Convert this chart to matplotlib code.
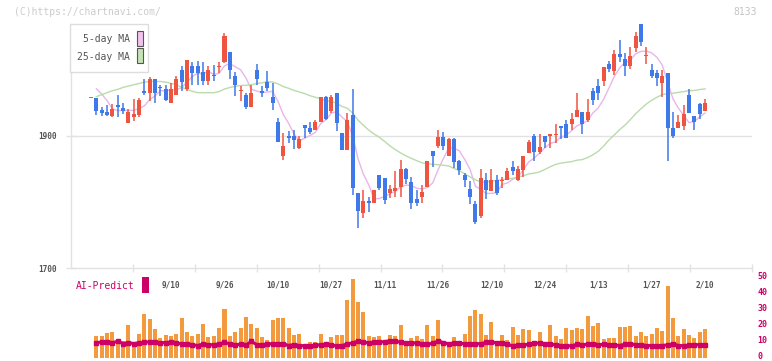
import numpy as np
import pandas as pd
import matplotlib
matplotlib.use("Agg")
import matplotlib.pyplot as plt
from matplotlib.patches import Rectangle
from matplotlib.transforms import ScaledTranslation

# daily candles
opens = [1957, 1957, 1939, 1936, 1930, 1947, 1942, 1919, 1929, 1931,
         1968, 1964, 1985, 1974, 1971, 1950, 1961, 2000, 1970, 2006,
         2005, 1996, 1982, 1992, 2004, 2011, 2027, 1991, 1967, 1962,
         1944, 2000, 1968, 1981, 1959, 1921, 1869, 1900, 1900, 1882,
         1916, 1912, 1908, 1920, 1959, 1937, 1965, 1904, 1879, 1932,
         1813, 1783, 1802, 1799, 1840, 1836, 1814, 1817, 1822, 1850,
         1830, 1805, 1808, 1823, 1877, 1885, 1898, 1870, 1895, 1861,
         1840, 1820, 1796, 1779, 1833, 1817, 1833, 1831, 1833, 1852,
         1833, 1848, 1874, 1900, 1875, 1900, 1899, 1901, 1915, 1918,
         1918, 1929, 1936, 1924, 1968, 1975, 1983, 2009, 1998, 2024,
         2016, 2005, 2032, 2069, 2020, 2000, 1995, 1979, 1995, 1912,
         1911, 1914, 1962, 1930, 1948, 1938]
highs = [1957, 1957, 1943, 1947, 1948, 1962, 1950, 1940, 1956, 1957,
         1986, 1988, 1985, 1977, 1977, 1980, 1991, 2005, 2015, 2012,
         2013, 2011, 2006, 2007, 2011, 2055, 2027, 1997, 1975, 1964,
         1977, 2009, 1975, 1998, 1980, 1927, 1904, 1907, 1908, 1899,
         1916, 1921, 1924, 1959, 1960, 1962, 1965, 1904, 1934, 1970,
         1813, 1818, 1808, 1818, 1840, 1836, 1826, 1846, 1864, 1851,
         1837, 1818, 1826, 1861, 1877, 1908, 1906, 1897, 1896, 1864,
         1843, 1831, 1802, 1849, 1843, 1849, 1840, 1838, 1851, 1862,
         1854, 1869, 1894, 1902, 1903, 1900, 1902, 1918, 1915, 1923,
         1934, 1965, 1936, 1956, 1972, 1985, 2004, 2013, 2029, 2045,
         2025, 2034, 2057, 2069, 2034, 2009, 2000, 2000, 1995, 1936,
         1932, 1947, 1970, 1930, 1950, 1956]
lows = [1957, 1932, 1930, 1930, 1928, 1929, 1933, 1919, 1922, 1929,
        1961, 1953, 1950, 1960, 1952, 1950, 1961, 1967, 1967, 1977,
        1976, 1976, 1976, 1982, 1995, 2010, 1985, 1960, 1952, 1940,
        1944, 1977, 1959, 1968, 1939, 1891, 1864, 1889, 1880, 1880,
        1897, 1903, 1908, 1920, 1924, 1935, 1907, 1879, 1878, 1811,
        1760, 1776, 1784, 1798, 1818, 1797, 1806, 1807, 1807, 1827,
        1789, 1794, 1799, 1823, 1852, 1882, 1879, 1870, 1851, 1840,
        1822, 1796, 1767, 1775, 1805, 1817, 1811, 1821, 1833, 1840,
        1831, 1838, 1874, 1862, 1872, 1882, 1882, 1889, 1895, 1897,
        1909, 1929, 1903, 1920, 1947, 1954, 1975, 1996, 1992, 2011,
        1991, 2001, 2026, 2035, 2008, 1987, 1975, 1959, 1861, 1897,
        1911, 1908, 1935, 1908, 1926, 1938]
closes = [1957, 1938, 1935, 1932, 1941, 1944, 1938, 1936, 1933, 1954,
          1965, 1985, 1964, 1972, 1954, 1971, 1986, 1981, 2015, 1995,
          1995, 1982, 2000, 1990, 2005, 2051, 1999, 1976, 1968, 1944,
          1965, 1985, 1964, 1972, 1949, 1891, 1885, 1897, 1893, 1895,
          1911, 1905, 1921, 1959, 1925, 1959, 1919, 1879, 1923, 1821,
          1786, 1801, 1799, 1818, 1821, 1803, 1819, 1821, 1849, 1835,
          1799, 1799, 1815, 1861, 1869, 1898, 1884, 1895, 1860, 1848,
          1833, 1808, 1769, 1836, 1818, 1833, 1813, 1832, 1847, 1846,
          1850, 1869, 1891, 1875, 1883, 1891, 1902, 1902, 1911, 1897,
          1926, 1939, 1917, 1936, 1954, 1964, 2004, 2001, 2024, 2019,
          2005, 2021, 2050, 2042, 2022, 1991, 1987, 1991, 1911, 1899,
          1921, 1933, 1935, 1920, 1933, 1950]
volume = [0, 13.9, 13.9, 15.6, 16.5, 11.9, 10.4, 20.6, 8.1, 15.0,
          27.7, 24.4, 18.1, 12.5, 14.4, 13.8, 15.0, 25.0, 16.5, 13.8,
          15.0, 21.5, 13.1, 13.8, 18.8, 30.6, 13.8, 16.5, 18.8, 25.8,
          21.5, 18.8, 13.1, 11.3, 24.0, 25.0, 25.0, 18.8, 14.4, 15.0,
          6.5, 10.0, 10.0, 15.0, 8.0, 13.1, 14.4, 14.4, 36.3, 49.4,
          35.0, 28.8, 13.8, 13.1, 13.8, 11.3, 14.4, 13.8, 20.6, 10.0,
          12.5, 13.8, 11.9, 20.6, 13.8, 23.8, 8.1, 7.7, 13.1, 10.6,
          15.0, 26.3, 30.0, 27.5, 14.4, 22.5, 7.5, 14.4, 11.3, 19.4,
          14.4, 18.1, 17.5, 10.6, 16.3, 7.5, 20.6, 13.8, 11.9, 18.8,
          17.5, 18.8, 18.1, 26.3, 20.0, 21.9, 11.9, 12.5, 12.5, 19.4,
          19.4, 20.0, 13.8, 16.3, 13.8, 15.0, 18.8, 16.9, 45.0, 25.0,
          13.8, 18.1, 14.4, 12.5, 16.3, 18.1]
ai_predict = [np.nan, 9.6, 10.0, 10.0, 9.6, 10.4, 9.0, 9.6, 9.0, 9.4,
              10.0, 10.0, 9.7, 9.6, 9.6, 10.1, 9.4, 8.9, 8.9, 8.2,
              7.8, 8.7, 8.3, 8.3, 8.8, 9.8, 8.8, 8.4, 8.5, 8.0,
              10.4, 8.4, 8.3, 8.8, 8.9, 8.9, 8.9, 7.8, 8.4, 7.7,
              7.7, 7.7, 7.9, 8.3, 8.7, 8.0, 7.7, 7.7, 8.9, 9.4,
              10.6, 9.7, 9.6, 9.8, 9.8, 10.3, 10.6, 10.4, 9.9, 9.6,
              9.4, 9.4, 9.0, 8.6, 9.2, 10.7, 9.6, 8.9, 9.3, 9.2,
              8.9, 8.9, 8.9, 8.9, 9.8, 10.2, 9.4, 9.6, 8.5, 7.6,
              8.2, 8.3, 8.5, 9.4, 9.2, 9.0, 8.6, 8.3, 7.7, 7.6,
              7.6, 8.5, 8.2, 8.6, 8.7, 8.4, 8.5, 7.9, 8.2, 7.8,
              8.6, 8.7, 8.4, 8.1, 7.8, 7.7, 7.7, 7.8, 8.2, 8.8,
              7.8, 7.7, 8.0, 8.3, 8.3, 8.3]
# moving averages before a full window is available
ma5_head = [np.nan, 1971, 1963, 1953]
ma25_head = [np.nan, 1959, 1962, 1965, 1968, 1970, 1973, 1975, 1977, 1979,
             1981, 1982, 1982, 1982, 1981, 1979, 1977, 1973, 1970, 1967,
             1965, 1965, 1965, 1965]
date_labels = ["9/10", "9/26", "10/10", "10/27", "11/11", "11/26",
               "12/10", "12/24", "1/13", "1/27", "2/10"]
date_index = [15, 25, 35, 45, 55, 65, 75, 85, 95, 105, 115]

df = pd.DataFrame({"open": opens, "high": highs, "low": lows,
                   "close": closes, "volume": volume})
ma5 = df["close"].rolling(5).mean()
ma5.iloc[:len(ma5_head)] = ma5_head
ma25 = df["close"].rolling(25).mean()
ma25.iloc[:len(ma25_head)] = ma25_head

W, H = 772, 361
RED, BLUE, ORANGE, CRIMSON = "#ef5441", "#3f79e9", "#f39a3f", "#cc0066"
GRID = "#e2e2e2"
MONO = "DejaVu Sans Mono"


def fx(px):
    return px / W


def fy(py):
    return 1 - py / H


fig = plt.figure(figsize=(W / 100, H / 100), dpi=100)
fig.patch.set_facecolor("white")

ax = fig.add_axes([fx(71), fy(268), fx(752) - fx(71), fy(10) - fy(268)])
axv = fig.add_axes([fx(71), fy(358), fx(752) - fx(71), fy(278) - fy(358)])

x = np.arange(len(df))
xlo, xhi = -3.75, 123.8
up = df["close"] >= df["open"]
colors = np.where(up, RED, BLUE)
body_lo = np.minimum(df["open"], df["close"])
body_h = np.maximum((df["close"] - df["open"]).abs(), 1.5)

ax.vlines(x, df["low"], df["high"], colors=colors, lw=1.1, zorder=3)
ax.bar(x, body_h, bottom=body_lo, width=0.75, color=colors, lw=0, zorder=4)
ax.plot(x, ma5, color="#e9b6e9", lw=1.0, zorder=2)
ax.plot(x, ma25, color="#b9dcaa", lw=1.0, zorder=2)

ax.set_xlim(xlo, xhi)
ax.set_ylim(1700, 1700 + 258 * 200 / 132.3)
ax.set_yticks([1700, 1900])
ax.axhline(1900, color=GRID, lw=1, zorder=1)
for s in ["top", "right"]:
    ax.spines[s].set_visible(False)
for s in ["left", "bottom"]:
    ax.spines[s].set_color(GRID)
    ax.spines[s].set_linewidth(1)
ax.spines["left"].set_bounds(1700, 2069)
ax.tick_params(axis="y", direction="inout", length=6.5, width=1, color=GRID,
               labelsize=5.6, labelcolor="#555555", pad=7)
for t in ax.get_yticklabels():
    t.set_family(MONO)
    t.set_fontweight("bold")

ax.set_xticks(x[date_index])
ax.set_xticklabels(date_labels, family=MONO, fontsize=5.6,
                   color="#555555", fontweight="bold")
ax.tick_params(axis="x", which="major", length=0, pad=9)
ax.set_xticks([xlo + k * (xhi - xlo) / 11 for k in range(1, 12)], minor=True)
ax.tick_params(axis="x", which="minor", direction="inout", length=6,
               width=1, color=GRID)
ax.patch.set_alpha(0)

axv.bar(x, df["volume"], width=0.75, color=ORANGE, lw=0, zorder=2)
axv.plot(x, ai_predict, color=CRIMSON, lw=2.2, marker="s", ms=2.5, zorder=3)
axv.set_xlim(xlo, xhi)
axv.set_ylim(0, 50)
axv.set_yticks([0, 10, 20, 30, 40, 50])
axv.yaxis.tick_right()
axv.tick_params(axis="y", length=0, pad=4, labelsize=6, labelcolor=CRIMSON)
lift = ScaledTranslation(0, 2.5 / 100, fig.dpi_scale_trans)
for t in axv.get_yticklabels():
    t.set_family(MONO)
    t.set_fontweight("bold")
    t.set_transform(t.get_transform() + lift)
axv.set_xticks([])
for s in axv.spines.values():
    s.set_visible(False)
axv.patch.set_alpha(0)

# header texts
fig.text(fx(14), fy(12), "(C)https://chartnavi.com/", family=MONO,
         fontsize=7, color="#cccccc", va="center", ha="left")
fig.text(fx(757), fy(12), "8133", family=MONO, fontsize=7,
         color="#c4c4c4", va="center", ha="right")

# legend box
fig.add_artist(Rectangle((fx(70), fy(71.5)), fx(148) - fx(70),
                         fy(24) - fy(71.5), transform=fig.transFigure,
                         facecolor="white", edgecolor="#dddddd", lw=1,
                         zorder=5))
fig.text(fx(130), fy(39.5), "5-day MA", family=MONO, fontsize=7,
         color="#555555", ha="right", va="center", zorder=6)
fig.text(fx(130), fy(56.5), "25-day MA", family=MONO, fontsize=7,
         color="#555555", ha="right", va="center", zorder=6)
fig.add_artist(Rectangle((fx(136.5), fy(46)), fx(6), fy(31) - fy(46),
                         transform=fig.transFigure, facecolor="#f0c2f0",
                         edgecolor="#555555", lw=0.8, zorder=6))
fig.add_artist(Rectangle((fx(136.5), fy(63)), fx(6), fy(48) - fy(63),
                         transform=fig.transFigure, facecolor="#c4e2b6",
                         edgecolor="#555555", lw=0.8, zorder=6))

# AI-Predict label
fig.text(fx(76), fy(286), "AI-Predict", family=MONO, fontsize=7,
         color=CRIMSON, ha="left", va="center")
fig.add_artist(Rectangle((fx(142), fy(293)), fx(6.5), fy(277) - fy(293),
                         transform=fig.transFigure, facecolor=CRIMSON,
                         edgecolor="none"))

fig.savefig("out.png", dpi=100, facecolor="white")
